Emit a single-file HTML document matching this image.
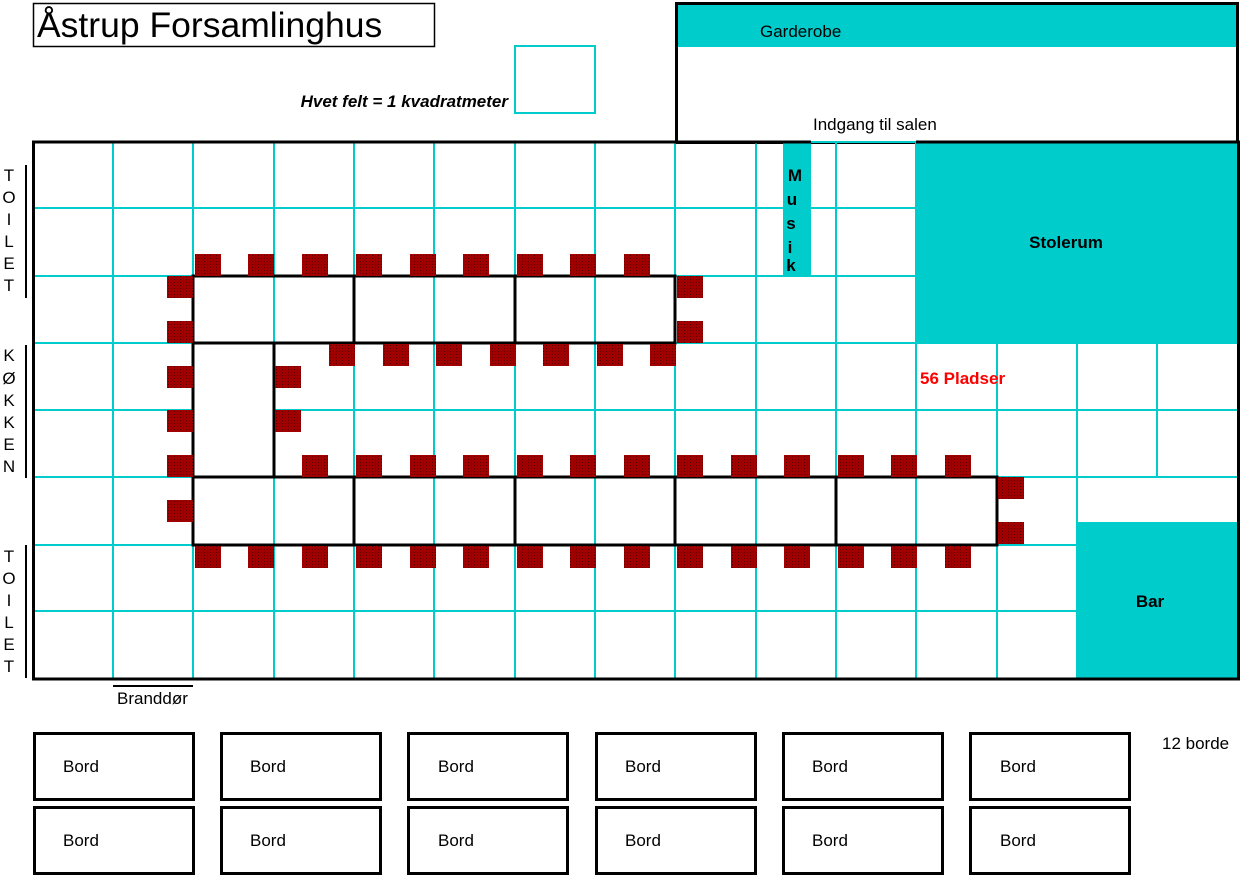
<!DOCTYPE html>
<html><head><meta charset="utf-8"><style>
html,body{margin:0;padding:0;background:#fff;}
svg{display:block;font-family:"Liberation Sans",Arial,sans-serif;}
</style></head><body>
<svg width="1240" height="877" viewBox="0 0 1240 877" xmlns="http://www.w3.org/2000/svg">
<defs>
<pattern id="ch" width="3" height="3" patternUnits="userSpaceOnUse">
<rect width="3" height="3" fill="#a00000"/><rect width="1" height="1" fill="#5a0000"/>
</pattern>
</defs>
<!-- title -->
<rect x="33.5" y="3.5" width="401" height="43" fill="none" stroke="#000" stroke-width="1.5"/>
<text x="37" y="37" font-size="35.5">Åstrup Forsamlinghus</text>
<text x="508" y="107" font-size="17" font-weight="bold" font-style="italic" text-anchor="end">Hvet felt = 1 kvadratmeter</text>
<rect x="515" y="46" width="80" height="67" fill="none" stroke="#00cccc" stroke-width="2"/>

<!-- garderobe room -->
<rect x="676.5" y="3.5" width="561" height="139" fill="none" stroke="#000" stroke-width="3"/>
<rect x="678" y="5" width="558" height="42" fill="#00cccc"/>
<text x="760" y="37" font-size="17">Garderobe</text>
<text x="813" y="130" font-size="17">Indgang til salen</text>

<!-- grid -->
<g stroke="#00cccc" stroke-width="2">
<line x1="113" y1="142" x2="113" y2="679"/>
<line x1="193" y1="142" x2="193" y2="679"/>
<line x1="274" y1="142" x2="274" y2="679"/>
<line x1="354" y1="142" x2="354" y2="679"/>
<line x1="434" y1="142" x2="434" y2="679"/>
<line x1="515" y1="142" x2="515" y2="679"/>
<line x1="595" y1="142" x2="595" y2="679"/>
<line x1="675" y1="142" x2="675" y2="679"/>
<line x1="756" y1="142" x2="756" y2="679"/>
<line x1="836" y1="142" x2="836" y2="679"/>
<line x1="916" y1="142" x2="916" y2="679"/>
<line x1="997" y1="142" x2="997" y2="679"/>
<line x1="1077" y1="343" x2="1077" y2="679"/>
<line x1="1157" y1="343" x2="1157" y2="477"/>
<line x1="33" y1="208" x2="916" y2="208"/>
<line x1="33" y1="276" x2="916" y2="276"/>
<line x1="33" y1="343" x2="1240" y2="343"/>
<line x1="33" y1="410" x2="1240" y2="410"/>
<line x1="33" y1="477" x2="1240" y2="477"/>
<line x1="33" y1="545" x2="1077" y2="545"/>
<line x1="33" y1="611" x2="1077" y2="611"/>
<line x1="811" y1="142" x2="916" y2="142"/>
</g>
<!-- rooms -->
<rect x="783" y="142" width="28" height="134" fill="#00cccc"/>
<g font-size="17" font-weight="bold" text-anchor="middle">
<text x="795" y="181">M</text><text x="792" y="205">u</text><text x="791" y="229">s</text><text x="790" y="253">i</text><text x="791" y="271">k</text>
</g>
<rect x="916" y="142" width="324" height="202" fill="#00cccc"/>
<text x="1066" y="248" font-size="17" font-weight="bold" text-anchor="middle">Stolerum</text>
<rect x="1077" y="522" width="163" height="157" fill="#00cccc"/>
<text x="1150" y="607" font-size="17" font-weight="bold" text-anchor="middle">Bar</text>
<text x="920" y="384" font-size="17" font-weight="bold" fill="#ff0000">56 Pladser</text>

<!-- outer walls -->
<g stroke="#000" stroke-width="3" fill="none">
<polyline points="811,142 33.5,142 33.5,679 1238.5,679 1238.5,142 916,142"/>
</g>

<!-- tables -->
<g stroke="#000" stroke-width="3" fill="none">
<rect x="193" y="276" width="482" height="67"/>
<line x1="354" y1="276" x2="354" y2="343"/>
<line x1="515" y1="276" x2="515" y2="343"/>
<rect x="193" y="343" width="81" height="134" fill="#fff"/>
<rect x="193" y="477" width="804" height="68"/>
<line x1="354" y1="477" x2="354" y2="545"/>
<line x1="515" y1="477" x2="515" y2="545"/>
<line x1="675" y1="477" x2="675" y2="545"/>
<line x1="836" y1="477" x2="836" y2="545"/>
</g>

<!-- chairs -->
<g fill="url(#ch)">
<rect x="195" y="254" width="26" height="22"/><rect x="248" y="254" width="26" height="22"/><rect x="302" y="254" width="26" height="22"/><rect x="356" y="254" width="26" height="22"/><rect x="410" y="254" width="26" height="22"/><rect x="463" y="254" width="26" height="22"/><rect x="517" y="254" width="26" height="22"/><rect x="570" y="254" width="26" height="22"/><rect x="624" y="254" width="26" height="22"/>
<rect x="329" y="344" width="26" height="22"/><rect x="383" y="344" width="26" height="22"/><rect x="436" y="344" width="26" height="22"/><rect x="490" y="344" width="26" height="22"/><rect x="543" y="344" width="26" height="22"/><rect x="597" y="344" width="26" height="22"/><rect x="650" y="344" width="26" height="22"/>
<rect x="167" y="276" width="26" height="22"/><rect x="167" y="321" width="26" height="22"/><rect x="167" y="366" width="26" height="22"/><rect x="167" y="410" width="26" height="22"/><rect x="167" y="455" width="26" height="22"/><rect x="167" y="500" width="26" height="22"/>
<rect x="275" y="366" width="26" height="22"/><rect x="275" y="410" width="26" height="22"/>
<rect x="677" y="276" width="26" height="22"/><rect x="677" y="321" width="26" height="22"/>
<rect x="302" y="455" width="26" height="22"/><rect x="356" y="455" width="26" height="22"/><rect x="410" y="455" width="26" height="22"/><rect x="463" y="455" width="26" height="22"/><rect x="517" y="455" width="26" height="22"/><rect x="570" y="455" width="26" height="22"/><rect x="624" y="455" width="26" height="22"/><rect x="677" y="455" width="26" height="22"/><rect x="731" y="455" width="26" height="22"/><rect x="784" y="455" width="26" height="22"/><rect x="838" y="455" width="26" height="22"/><rect x="891" y="455" width="26" height="22"/><rect x="945" y="455" width="26" height="22"/>
<rect x="195" y="546" width="26" height="22"/><rect x="248" y="546" width="26" height="22"/><rect x="302" y="546" width="26" height="22"/><rect x="356" y="546" width="26" height="22"/><rect x="410" y="546" width="26" height="22"/><rect x="463" y="546" width="26" height="22"/><rect x="517" y="546" width="26" height="22"/><rect x="570" y="546" width="26" height="22"/><rect x="624" y="546" width="26" height="22"/><rect x="677" y="546" width="26" height="22"/><rect x="731" y="546" width="26" height="22"/><rect x="784" y="546" width="26" height="22"/><rect x="838" y="546" width="26" height="22"/><rect x="891" y="546" width="26" height="22"/><rect x="945" y="546" width="26" height="22"/>
<rect x="998" y="477" width="26" height="22"/><rect x="998" y="522" width="26" height="22"/>
</g>

<!-- side labels -->
<g stroke="#000" stroke-width="2">
<line x1="26" y1="165" x2="26" y2="298"/>
<line x1="26" y1="345" x2="26" y2="478"/>
<line x1="26" y1="545" x2="26" y2="678"/>
<line x1="113" y1="686" x2="193" y2="686"/>
</g>
<g font-size="17" text-anchor="middle">
<text x="9" y="181">T</text><text x="9" y="203">O</text><text x="9" y="225">I</text><text x="9" y="247">L</text><text x="9" y="269">E</text><text x="9" y="291">T</text>
<text x="9" y="361">K</text><text x="9" y="384">Ø</text><text x="9" y="406">K</text><text x="9" y="428">K</text><text x="9" y="450">E</text><text x="9" y="472">N</text>
<text x="9" y="562">T</text><text x="9" y="584">O</text><text x="9" y="606">I</text><text x="9" y="628">L</text><text x="9" y="650">E</text><text x="9" y="672">T</text>
</g>
<text x="117" y="704" font-size="17">Branddør</text>

<!-- bord boxes -->
<g stroke="#000" stroke-width="3" fill="none">
<rect x="34.5" y="733.5" width="159" height="66"/><rect x="221.5" y="733.5" width="159" height="66"/><rect x="408.5" y="733.5" width="159" height="66"/><rect x="596.5" y="733.5" width="159" height="66"/><rect x="783.5" y="733.5" width="159" height="66"/><rect x="970.5" y="733.5" width="159" height="66"/>
<rect x="34.5" y="807.5" width="159" height="66"/><rect x="221.5" y="807.5" width="159" height="66"/><rect x="408.5" y="807.5" width="159" height="66"/><rect x="596.5" y="807.5" width="159" height="66"/><rect x="783.5" y="807.5" width="159" height="66"/><rect x="970.5" y="807.5" width="159" height="66"/>
</g>
<g font-size="17">
<text x="63" y="772">Bord</text><text x="250" y="772">Bord</text><text x="438" y="772">Bord</text><text x="625" y="772">Bord</text><text x="812" y="772">Bord</text><text x="1000" y="772">Bord</text>
<text x="63" y="846">Bord</text><text x="250" y="846">Bord</text><text x="438" y="846">Bord</text><text x="625" y="846">Bord</text><text x="812" y="846">Bord</text><text x="1000" y="846">Bord</text>
<text x="1162" y="749">12 borde</text>
</g>
</svg>
</body></html>
